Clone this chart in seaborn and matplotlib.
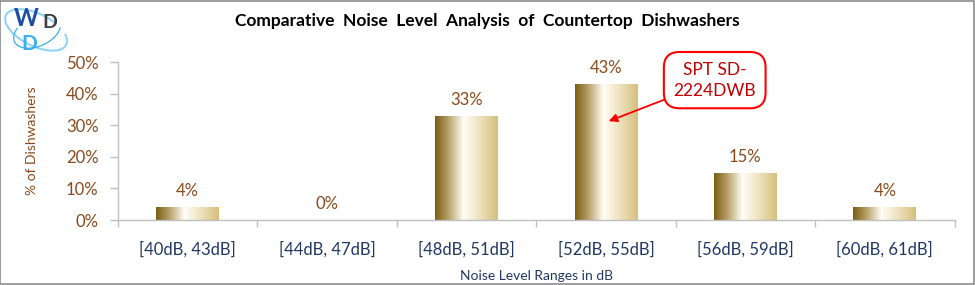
import numpy as np
import pandas as pd
import seaborn as sns
import matplotlib.pyplot as plt
from matplotlib.colors import LinearSegmentedColormap
from matplotlib.ticker import PercentFormatter, FixedLocator
from matplotlib.patches import Rectangle, Arc

sns.set_style("white")
plt.rcParams['font.family'] = ['Lato', 'DejaVu Sans']

# data
ranges = ['[40dB, 43dB]', '[44dB, 47dB]', '[48dB, 51dB]',
          '[52dB, 55dB]', '[56dB, 59dB]', '[60dB, 61dB]']
share = [0.04, 0.0, 0.33, 0.43, 0.15, 0.04]
labels = ['4%', '0%', '33%', '43%', '15%', '4%']

df = pd.DataFrame({'range': ranges, 'share': share})

brown = '#8a4a1c'
navy = '#1f3864'

fig = plt.figure(figsize=(9.75, 2.85), dpi=100)
ax = fig.add_axes([0.121, 0.228, 0.858, 0.554])

sns.barplot(data=df, x='range', y='share', color='#d8c27f', width=0.45, ax=ax)

# gold gradient fill on each bar
gold = LinearSegmentedColormap.from_list(
    'gold', [(0, '#7a5e16'), (0.2, '#b49c62'), (0.45, '#fffdf6'),
             (0.7, '#efe3c0'), (1, '#d6bf7c')])
grad = np.linspace(0, 1, 256).reshape(1, -1)
for p in ax.patches:
    x0, y0 = p.get_x(), p.get_y()
    w, h = p.get_width(), p.get_height()
    if h <= 0:
        continue
    im = ax.imshow(grad, cmap=gold, aspect='auto', extent=[x0, x0 + w, y0, y0 + h],
                   zorder=p.get_zorder() + 0.1)
    im.set_clip_path(p)

ax.set_xlim(-0.5, 5.5)
ax.set_ylim(0, 0.5)
ax.set_yticks(np.arange(0, 0.51, 0.1))
ax.yaxis.set_major_formatter(PercentFormatter(1.0, decimals=0))

for i, (v, t) in enumerate(zip(share, labels)):
    ax.text(i, v + 0.025, t, ha='center', va='bottom', color=brown, fontsize=12)

ax.tick_params(axis='y', colors='#bfbfbf', labelcolor=brown, labelsize=12,
               length=6, direction='out', left=True, width=1, pad=8)
ax.tick_params(axis='x', which='major', length=0, labelcolor=navy, labelsize=12, pad=15)
ax.xaxis.set_minor_locator(FixedLocator(np.arange(-0.5, 6, 1)))
ax.tick_params(axis='x', which='minor', length=5, color='#bfbfbf', bottom=True, width=1)

for s in ['top', 'right']:
    ax.spines[s].set_visible(False)
for s in ['left', 'bottom']:
    ax.spines[s].set_color('#bfbfbf')
    ax.spines[s].set_linewidth(1)

ax.set_xlabel('Noise Level Ranges in dB', color=navy, fontsize=10, labelpad=9)
ax.set_ylabel('% of Dishwashers', color=brown, fontsize=10, labelpad=20)

ax.annotate('SPT SD-\n2224DWB', xy=(3.02, 0.313), xytext=(3.78, 0.443),
            ha='center', va='center', color='#c00000', fontsize=12.5,
            linespacing=1.4,
            bbox=dict(boxstyle='round,pad=0.55,rounding_size=0.9', fc='white',
                      ec='#ff0000', lw=1.5),
            arrowprops=dict(arrowstyle='-|>', color='#ff0000', lw=1.3,
                            mutation_scale=12, shrinkA=0, shrinkB=0))

fig.text(0.5, 0.925, 'Comparative  Noise  Level  Analysis  of  Countertop  Dishwashers',
         ha='center', va='center', fontsize=12.5, fontweight='bold', color='black')

# logo
fig.add_artist(Arc((0.037, 0.895), 0.052, 0.15, angle=15, theta1=30, theta2=320,
                   transform=fig.transFigure, color='#8fd3f7', lw=1.5))
fig.add_artist(Arc((0.038, 0.89), 0.044, 0.12, angle=-10, theta1=160, theta2=400,
                   transform=fig.transFigure, color='#36b0ef', lw=0.9))
fig.text(0.014, 0.935, 'W', color='#1f4ea0', fontsize=17, fontweight='bold', va='center')
fig.text(0.043, 0.92, 'D', color='#3f3f3f', fontsize=14, fontweight='bold', va='center')
fig.text(0.022, 0.845, 'D', color='#36b0ef', fontsize=15, fontweight='bold', va='center')

fig.add_artist(Rectangle((0.0005, 0.002), 0.998, 0.995, transform=fig.transFigure,
                         fill=False, ec='#8c8c8c', lw=1.2))

fig.savefig('out.png', dpi=100)
